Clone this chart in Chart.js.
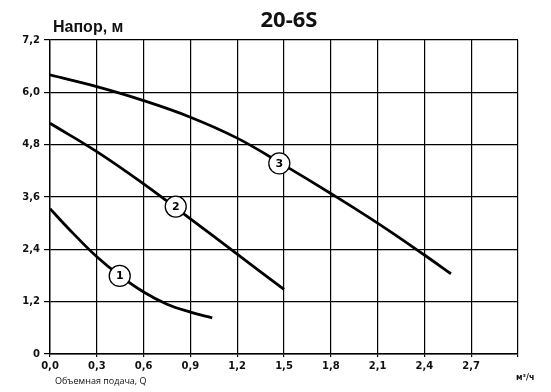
<!DOCTYPE html>
<html>
<head>
<meta charset="utf-8">
<script src="https://cdn.jsdelivr.net/npm/chart.js@4"></script>
<style>
  html, body { margin: 0; padding: 0; background: #fff; }
  #wrap { width: 551px; height: 392px; position: relative; }
</style>
</head>
<body>
<div id="wrap"><canvas id="pumpChart" width="551" height="392"></canvas></div>
<script>
// Кривые напора (Q, м3/ч -> H, м)
const curve1 = [[0, 3.33], [0.15, 2.76], [0.3, 2.23], [0.45, 1.79], [0.6, 1.42], [0.75, 1.14], [0.9, 0.96], [1.04, 0.83]];
const curve2 = [[0, 5.29], [0.3, 4.64], [0.6, 3.90], [0.9, 3.10], [1.2, 2.29], [1.5, 1.48]];
const curve3 = [[0, 6.40], [0.3, 6.13], [0.6, 5.81], [0.9, 5.43], [1.2, 4.95], [1.5, 4.33], [1.8, 3.68], [2.1, 3.00], [2.4, 2.27], [2.57, 1.84]];

// Номера кривых (кружки)
const labelNames = ['1', '2', '3'];
const labelPoints = [[0.447, 1.79], [0.806, 3.38], [1.47, 4.37]];

const xTicks = [0, 0.3, 0.6, 0.9, 1.2, 1.5, 1.8, 2.1, 2.4, 2.7, 3.0];
const yTicks = [0, 1.2, 2.4, 3.6, 4.8, 6.0, 7.2];

const toXY = arr => arr.map(p => ({ x: p[0], y: p[1] }));
const fmt = v => v === 0 ? '0' : v.toFixed(1).replace('.', ',');

const lineStyle = {
    type: 'line',
    borderColor: '#000',
    borderWidth: 2.8,
    pointRadius: 0,
    fill: false,
    tension: 0.4,
    order: 2
};

const textPlugin = {
    id: 'texts',
    afterDatasetsDraw(chart) {
        const ctx = chart.ctx;
        const meta = chart.getDatasetMeta(3);
        ctx.save();
        ctx.fillStyle = '#000';
        ctx.textAlign = 'center';
        ctx.textBaseline = 'middle';
        ctx.font = 'bold 11px "DejaVu Sans"';
        meta.data.forEach((pt, i) => {
            ctx.fillText(labelNames[i], pt.x, pt.y + 0.5);
        });
        ctx.restore();
    },
    afterDraw(chart) {
        const ctx = chart.ctx;
        ctx.save();
        ctx.fillStyle = '#111';
        ctx.textBaseline = 'alphabetic';
        ctx.textAlign = 'center';
        ctx.font = 'bold 22px "Open Sans"';
        ctx.fillText('20-6S', 289, 27);
        ctx.textAlign = 'left';
        ctx.font = 'bold 16px "Liberation Sans"';
        ctx.fillText('Напор, м', 53, 32);
        ctx.font = '9px "Open Sans"';
        ctx.fillText('Объемная подача, Q', 55, 384);
        ctx.font = 'bold 8px "DejaVu Sans"';
        ctx.fillText('м³/ч', 516, 380);
        ctx.restore();
    }
};

new Chart(document.getElementById('pumpChart'), {
    type: 'line',
    data: {
        datasets: [
            Object.assign({ data: toXY(curve1) }, lineStyle),
            Object.assign({ data: toXY(curve2) }, lineStyle),
            Object.assign({ data: toXY(curve3) }, lineStyle),
            {
                type: 'scatter',
                data: toXY(labelPoints),
                showLine: false,
                pointRadius: 10.5,
                pointBackgroundColor: '#fff',
                pointBorderColor: '#000',
                pointBorderWidth: 1.3,
                order: 1
            }
        ]
    },
    options: {
        responsive: false,
        animation: false,
        layout: { padding: { left: 0, top: 40, right: 33, bottom: 0 } },
        plugins: { legend: { display: false }, tooltip: { enabled: false } },
        scales: {
            x: {
                type: 'linear',
                min: 0,
                max: 3.0,
                afterBuildTicks: s => { s.ticks = xTicks.map(v => ({ value: v })); },
                afterFit: s => { s.height = 38; },
                grid: { color: '#000', lineWidth: 1.2, tickLength: 3, tickColor: '#000' },
                border: { color: '#000', width: 1.4 },
                ticks: {
                    color: '#111',
                    padding: 3,
                    maxRotation: 0,
                    autoSkip: false,
                    font: { family: 'DejaVu Sans', weight: 'bold', size: 10 },
                    callback: v => v >= 2.95 ? '' : v.toFixed(1).replace('.', ',')
                }
            },
            y: {
                type: 'linear',
                min: 0,
                max: 7.2,
                afterBuildTicks: s => { s.ticks = yTicks.map(v => ({ value: v })); },
                afterFit: s => { s.width = 50; },
                grid: { color: '#000', lineWidth: 1.2, tickLength: 6, tickColor: '#000' },
                border: { color: '#000', width: 1.4 },
                ticks: {
                    color: '#111',
                    padding: 4,
                    autoSkip: false,
                    font: { family: 'DejaVu Sans', weight: 'bold', size: 10 },
                    callback: v => fmt(v)
                }
            }
        }
    },
    plugins: [textPlugin]
});
</script>
</body>
</html>
